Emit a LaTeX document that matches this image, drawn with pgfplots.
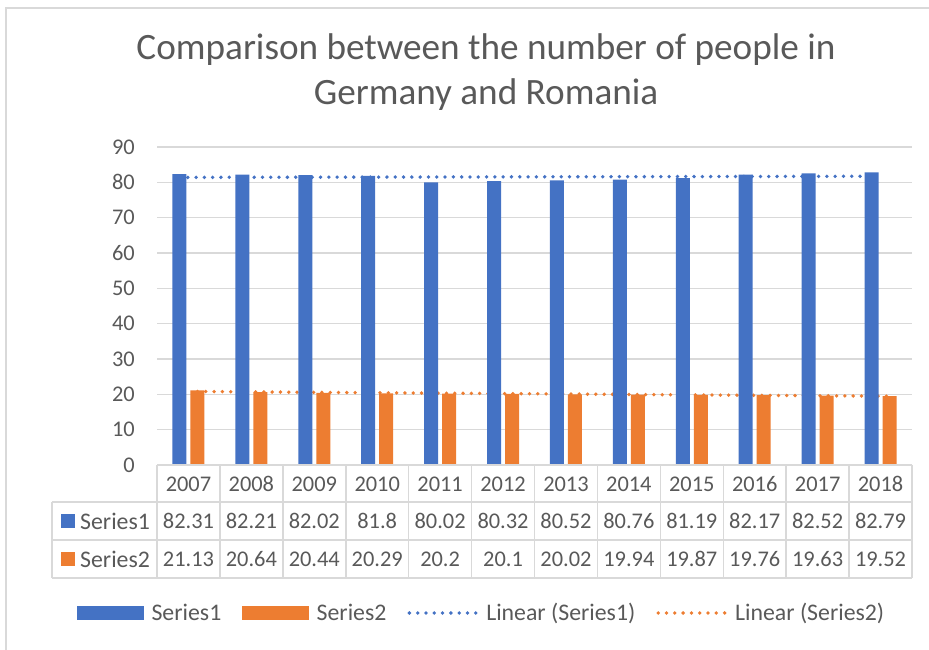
\documentclass[border=0pt]{standalone}
\usepackage{pgfplots}
\pgfplotsset{compat=1.18}
\usepackage{fontspec}
\setmainfont{Carlito}
\definecolor{c1}{HTML}{4472C4}
\definecolor{c2}{HTML}{ED7D31}
\definecolor{txt}{HTML}{595959}
\definecolor{gr}{HTML}{D9D9D9}
\newcommand{\tfont}{\fontsize{22.4}{26}\selectfont}
\newcommand{\lfont}{\fontsize{23.8}{27}\selectfont}
\begin{document}
\begin{tikzpicture}
\begin{scope}[x=1pt,y=1pt]
\useasboundingbox (0,0) rectangle (929,650);
% chart border
\draw[gr,line width=1.2pt] (6,0) -- (6,642) -- (935,642);
% title
\node[text=txt,align=center,font=\fontsize{37.2}{45}\selectfont] at (486,578) {Comparison between the number of people in\\Germany and Romania};
\end{scope}
\begin{axis}[at={(157pt,185pt)}, anchor=south west, scale only axis,
  width=755pt, height=318pt,
  xmin=0.5, xmax=12.5, ymin=0, ymax=90,
  ytick={0,10,...,90}, xtick=\empty,
  axis line style={draw=none},
  ymajorgrids, grid style={gr,line width=1.2pt},
  major tick length=0pt,
  /pgf/number format/assume math mode=true,
  yticklabel style={font=\tfont,text=txt,anchor=east,inner sep=0pt,xshift=-22pt},
  clip=false,
  legend columns=4,
  legend style={at={(axis description cs:-0.106,-0.4654)},anchor=west,draw=none,fill=none,inner sep=0pt,
    font=\lfont,text=txt,
    nodes={inner xsep=0pt,inner ysep=0pt},
    /tikz/every odd column/.append style={column sep=8pt},
    /tikz/every even column/.append style={column sep=21pt}},
]
\addlegendimage{legend image code/.code={\fill[c1] (0pt,-6.5pt) rectangle (66pt,6.5pt);}}
\addlegendentry{Series1}
\addlegendimage{legend image code/.code={\fill[c2] (0pt,-6.5pt) rectangle (66pt,6.5pt);}}
\addlegendentry{Series2}
\addlegendimage{legend image code/.code={\draw[c1,line width=3.8pt,line cap=round,dash pattern=on 0pt off 8.3pt] (1pt,0) -- (68pt,0);}}
\addlegendentry{Linear (Series1)}
\addlegendimage{legend image code/.code={\draw[c2,line width=3.8pt,line cap=round,dash pattern=on 0pt off 8.3pt] (1pt,0) -- (68pt,0);}}
\addlegendentry{Linear (Series2)}
% trendlines (least-squares fits)
\addplot[forget plot,c1,line width=3.8pt,line cap=round,dash pattern=on 0pt off 8.3pt] coordinates {(0.857,81.389) (11.857,81.716)};
\addplot[forget plot,c2,line width=3.8pt,line cap=round,dash pattern=on 0pt off 8.3pt] coordinates {(1.143,20.792) (12.143,19.464)};
% bars
\addplot[forget plot,ybar,bar width=14pt,bar shift=-9pt,fill=c1,draw=none] coordinates {
(1,82.31) (2,82.21) (3,82.02) (4,81.8) (5,80.02) (6,80.32) (7,80.52) (8,80.76) (9,81.19) (10,82.17) (11,82.52) (12,82.79)};
\addplot[forget plot,ybar,bar width=14pt,bar shift=9pt,fill=c2,draw=none] coordinates {
(1,21.13) (2,20.64) (3,20.44) (4,20.29) (5,20.2) (6,20.1) (7,20.02) (8,19.94) (9,19.87) (10,19.76) (11,19.63) (12,19.52)};
\end{axis}
\begin{scope}[x=1pt,y=1pt]
% data table
\begin{scope}[gr,line width=1.5pt]
\draw (157,185) -- (912,185);
\draw (52,148) -- (912,148);
\draw (52,110) -- (912,110);
\draw (52,72) -- (912,72);
\draw (52,148) -- (52,72);
\foreach \k in {0,...,12} {\draw ({157+\k*62.917},185) -- ({157+\k*62.917},72);}
\end{scope}
\foreach \yr/\a/\b [count=\i] in {2007/82.31/21.13,2008/82.21/20.64,2009/82.02/20.44,2010/81.8/20.29,2011/80.02/20.2,2012/80.32/20.1,2013/80.52/20.02,2014/80.76/19.94,2015/81.19/19.87,2016/82.17/19.76,2017/82.52/19.63,2018/82.79/19.52} {
  \node[text=txt,font=\tfont,inner sep=0pt] at ({157+(\i-0.5)*62.917},166) {\yr};
  \node[text=txt,font=\tfont,inner sep=0pt] at ({157+(\i-0.5)*62.917},129) {\a};
  \node[text=txt,font=\tfont,inner sep=0pt] at ({157+(\i-0.5)*62.917},91) {\b};
}
\fill[c1] (61,122) rectangle (75,136);
\fill[c2] (61,84) rectangle (75,98);
\node[text=txt,font=\lfont,inner sep=0pt,anchor=west] at (80,129) {Series1};
\node[text=txt,font=\lfont,inner sep=0pt,anchor=west] at (80,91) {Series2};
\end{scope}
\end{tikzpicture}
\end{document}
